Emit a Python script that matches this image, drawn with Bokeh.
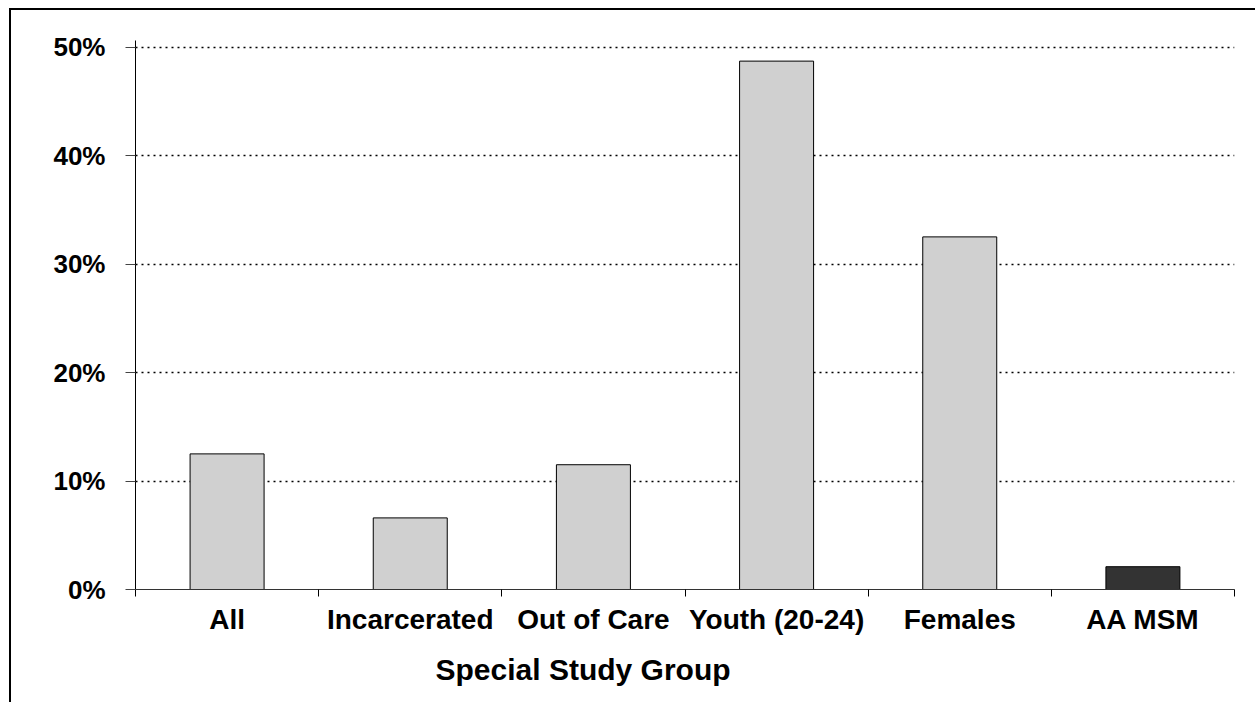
from bokeh.plotting import figure
from bokeh.models import Range1d, FixedTicker, Title, ColumnDataSource
from bokeh.embed import file_html
from bokeh.resources import INLINE

# Share of each special study group (percent)
groups = ["All", "Incarcerated", "Out of Care", "Youth (20-24)", "Females", "AA MSM"]
percent = [12.5, 6.6, 11.5, 48.7, 32.5, 2.1]
bar_colors = ["#d0d0d0", "#d0d0d0", "#d0d0d0", "#d0d0d0", "#d0d0d0", "#333333"]

y_ticks = [0, 10, 20, 30, 40, 50]
y_tick_labels = ["0%", "10%", "20%", "30%", "40%", "50%"]
x_title = "Special Study Group"

FONT = "Liberation Sans"

centers = [i + 0.5 for i in range(len(groups))]
bounds = [float(i) for i in range(len(groups) + 1)]

src = ColumnDataSource(dict(x=centers, top=percent, color=bar_colors, name=groups))

# the page frame (left/top border) sits 9px/8px in from the window edge
p = figure(width=1246, height=694, output_backend="svg", toolbar_location=None,
           x_range=Range1d(0, len(groups)), y_range=Range1d(0, 50.6),
           min_border_left=124, min_border_right=23, min_border_top=30, min_border_bottom=115)
p.styles = {"margin-left": "9px", "margin-top": "8px",
            "border-left": "2px solid black", "border-top": "2px solid black"}
p.outline_line_color = None
p.background_fill_color = "white"
p.border_fill_color = "white"

p.vbar(x="x", top="top", width=0.404, bottom=0, source=src,
       fill_color="color", line_color="black", line_width=1)

# horizontal dotted grid lines
p.xgrid.visible = False
p.ygrid.ticker = FixedTicker(ticks=y_ticks[1:])
p.ygrid.grid_line_color = "black"
p.ygrid.grid_line_dash = "2 4"
p.ygrid.grid_line_width = 1.5

# y axis
p.yaxis.ticker = FixedTicker(ticks=y_ticks)
p.yaxis.major_label_overrides = {t: s for t, s in zip(y_ticks, y_tick_labels)}
p.yaxis.major_tick_out = 10
p.yaxis.major_tick_in = 0
p.yaxis.major_tick_line_color = "#444444"
p.yaxis.minor_tick_line_color = None
p.yaxis.axis_line_color = "black"
p.yaxis.major_label_text_font = FONT
p.yaxis.major_label_text_font_style = "bold"
p.yaxis.major_label_text_font_size = "26px"
p.yaxis.major_label_text_color = "black"
p.yaxis.major_label_standoff = 20

# x axis: labels at bar centres, short ticks at the group boundaries
p.xaxis.ticker = FixedTicker(ticks=centers, minor_ticks=bounds)
p.xaxis.major_label_overrides = {c: g for c, g in zip(centers, groups)}
p.xaxis.major_tick_line_color = None
p.xaxis.minor_tick_line_color = "black"
p.xaxis.minor_tick_out = 7
p.xaxis.minor_tick_in = 0
p.xaxis.axis_line_color = "#333333"
p.xaxis.major_label_text_font = FONT
p.xaxis.major_label_text_font_style = "bold"
p.xaxis.major_label_text_font_size = "28px"
p.xaxis.major_label_text_color = "black"
p.xaxis.major_label_standoff = 7

# axis title, set a little left of centre
p.add_layout(Title(text=x_title, align="left", offset=300, text_font=FONT,
                   text_font_style="bold", text_font_size="30px", text_color="black",
                   standoff=26), "below")

open("out.html", "w").write(file_html(p, INLINE))
